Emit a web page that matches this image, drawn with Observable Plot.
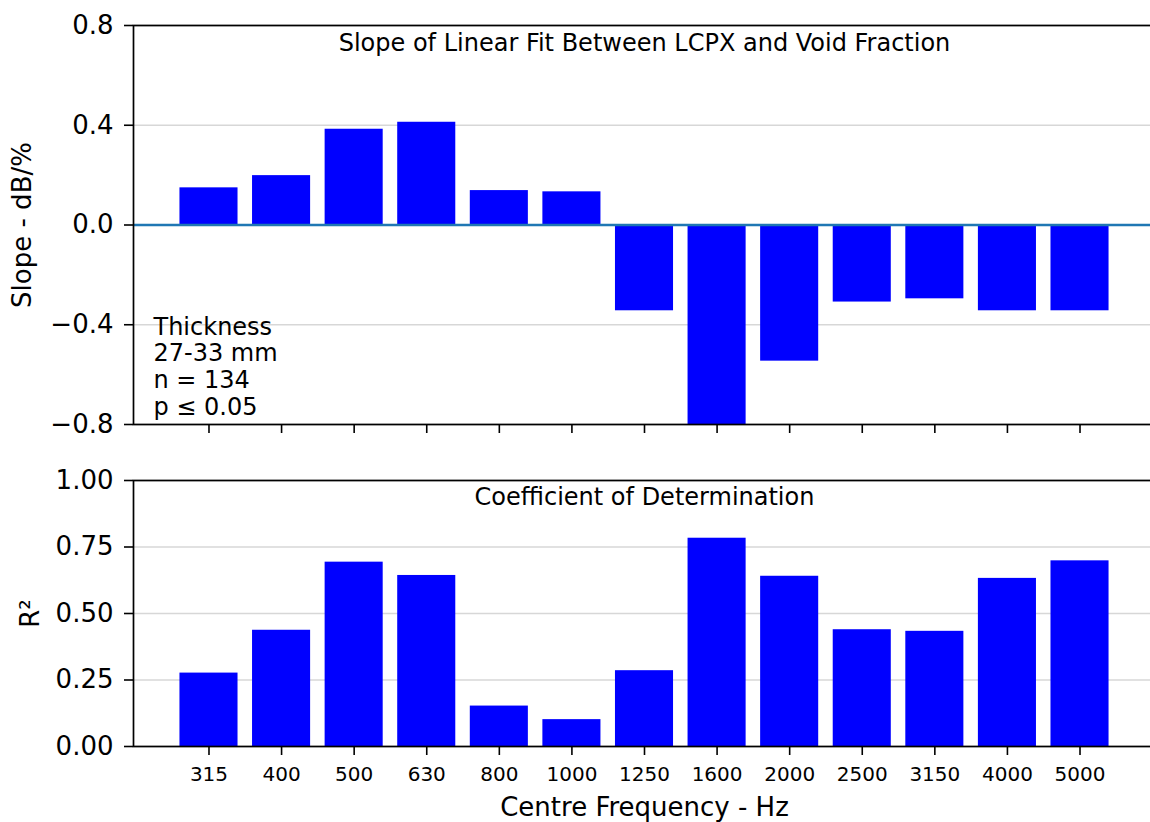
<!DOCTYPE html>
<html>
<head>
<meta charset="utf-8">
<script src="https://cdn.jsdelivr.net/npm/d3@7"></script>
<script src="https://cdn.jsdelivr.net/npm/@observablehq/plot@0.6"></script>
<style>
  html, body { margin: 0; padding: 0; background: #fff; overflow: hidden; }
  #wrap { width: 1150px; height: 822px; }
  #wrap svg { display: block; }
</style>
</head>
<body>
<div id="wrap"></div>
<script>
// ---- data ----
const freqs = ["315","400","500","630","800","1000","1250","1600","2000","2500","3150","4000","5000"];
const slopes = [0.149, 0.198, 0.384, 0.412, 0.138, 0.133, -0.344, -0.80, -0.546, -0.309, -0.296, -0.344, -0.344];
const r2 = [0.276, 0.437, 0.693, 0.643, 0.152, 0.101, 0.285, 0.783, 0.640, 0.439, 0.433, 0.632, 0.698];
const slopeTicks = [-0.8, -0.4, 0.0, 0.4, 0.8];
const r2Ticks = [0, 0.25, 0.5, 0.75, 1.0];
const topTitle = "Slope of Linear Fit Between LCPX and Void Fraction";
const bottomTitle = "Coefficient of Determination";
const noteText = "Thickness\n27-33 mm\nn = 134\np ≤ 0.05";
const yLabelTop = "Slope - dB/%";
const yLabelBottom = "R²";
const xLabel = "Centre Frequency - Hz";

const slopeData = freqs.map((f, i) => ({freq: f, value: slopes[i]}));
const r2Data = freqs.map((f, i) => ({freq: f, value: r2[i]}));

const FONT = "DejaVu Sans, sans-serif";
const xScale = {type: "band", domain: freqs, paddingInner: 0.2, paddingOuter: 0.64, align: 0.5, round: false};
const gridColor = "#d7d7d7";
const wrap = document.getElementById("wrap");

const fmtMinus = (d, n) => d.toFixed(n).replace("-", "\u2212");

// ---- top panel ----
const topChart = Plot.plot({
  width: 1150,
  height: 440,
  marginLeft: 133,
  marginRight: -5,
  marginTop: 25,
  marginBottom: 16,
  style: {fontFamily: FONT, background: "white", color: "black"},
  x: xScale,
  y: {domain: [-0.8, 0.8]},
  marks: [
    Plot.gridY(slopeTicks, {stroke: gridColor, strokeOpacity: 1, strokeWidth: 1.6}),
    Plot.barY(slopeData, {x: "freq", y: "value", fill: "#0000ff"}),
    Plot.ruleY([0], {stroke: "#1f77b4", strokeWidth: 2.4}),
    Plot.axisY(slopeTicks, {tickSize: 9, tickPadding: 11, fontSize: 26, stroke: "black", strokeWidth: 1.6,
      tickFormat: d => fmtMinus(d, 1), label: null}),
    Plot.axisX({tickSize: 9, stroke: "black", strokeWidth: 1.6, tickFormat: () => "", label: null}),
    Plot.text([topTitle], {frameAnchor: "top", lineAnchor: "top", dy: 8, fontSize: 24, fill: "black"}),
    Plot.text([noteText], {frameAnchor: "bottom-left", textAnchor: "start", lineAnchor: "bottom",
      dx: 20, dy: -10, fontSize: 24, lineHeight: 1.11, fill: "black"}),
    Plot.text([yLabelTop], {frameAnchor: "left", textAnchor: "middle", rotate: -90, dx: -111, fontSize: 26, fill: "black"}),
    Plot.frame({stroke: "black", strokeWidth: 1.7})
  ]
});
wrap.appendChild(topChart);

// ---- bottom panel ----
const bottomChart = Plot.plot({
  width: 1150,
  height: 382,
  marginLeft: 133,
  marginRight: -5,
  marginTop: 40,
  marginBottom: 76,
  style: {fontFamily: FONT, background: "white", color: "black"},
  x: xScale,
  y: {domain: [0, 1]},
  marks: [
    Plot.gridY(r2Ticks, {stroke: gridColor, strokeOpacity: 1, strokeWidth: 1.6}),
    Plot.barY(r2Data, {x: "freq", y: "value", fill: "#0000ff"}),
    Plot.axisY(r2Ticks, {tickSize: 9, tickPadding: 11, fontSize: 26, stroke: "black", strokeWidth: 1.6,
      tickFormat: d => d.toFixed(2), label: null}),
    Plot.axisX({tickSize: 9, tickPadding: 11, fontSize: 20, stroke: "black", strokeWidth: 1.6, label: null}),
    Plot.text([bottomTitle], {frameAnchor: "top", lineAnchor: "top", dy: 7, fontSize: 24, fill: "black"}),
    Plot.text([yLabelBottom], {frameAnchor: "left", textAnchor: "middle", rotate: -90, dx: -103, fontSize: 26, fill: "black"}),
    Plot.text([xLabel], {frameAnchor: "bottom", lineAnchor: "bottom", dy: 69, fontSize: 26, fill: "black"}),
    Plot.frame({stroke: "black", strokeWidth: 1.7})
  ]
});
wrap.appendChild(bottomChart);
</script>
</body>
</html>
